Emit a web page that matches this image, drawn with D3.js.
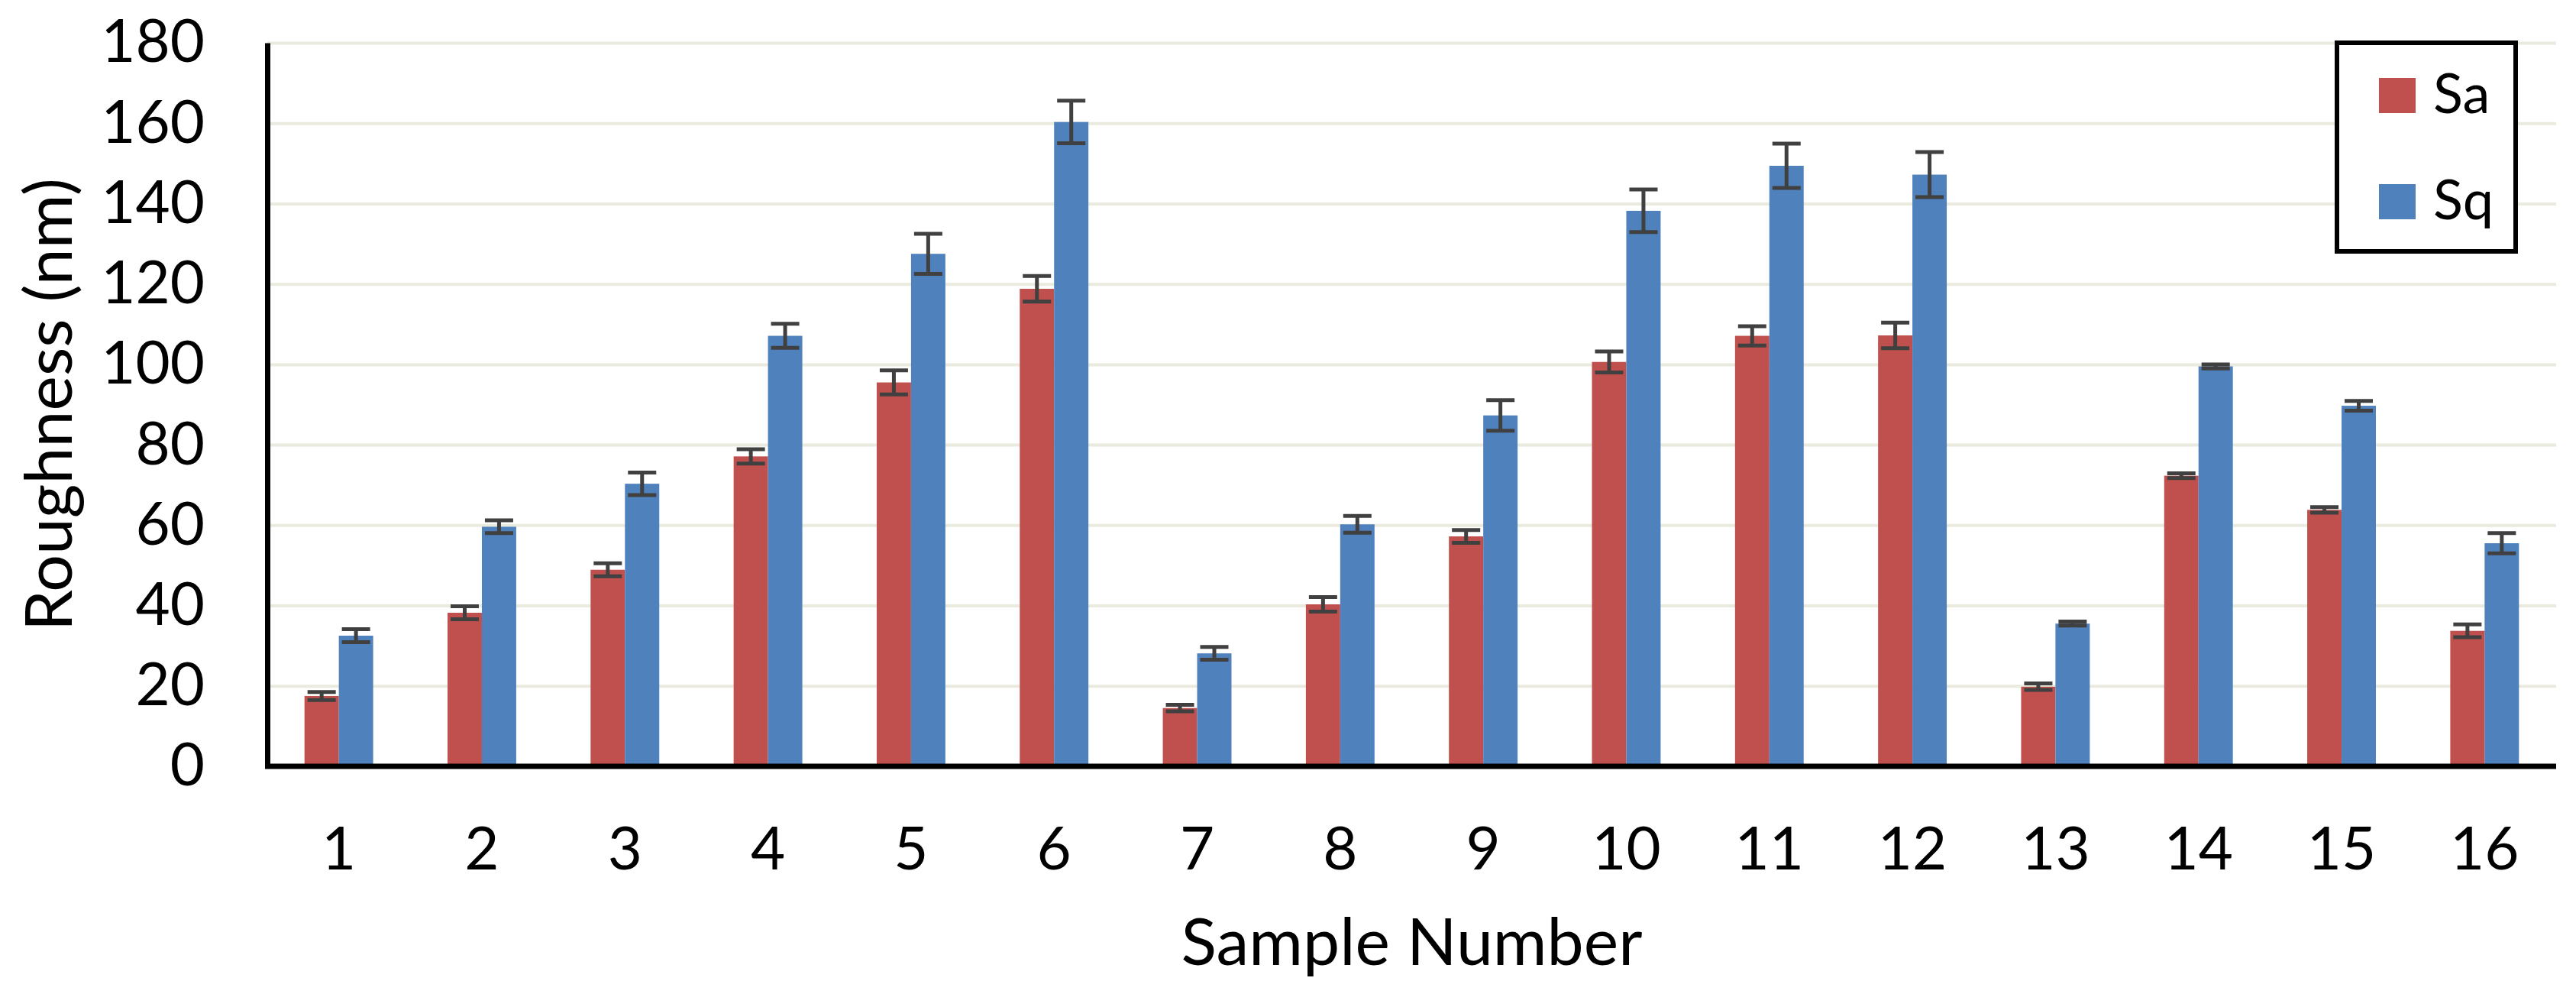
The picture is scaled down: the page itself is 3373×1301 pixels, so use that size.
<!DOCTYPE html>
<html>
<head>
<meta charset="utf-8">
<script src="https://cdn.jsdelivr.net/npm/d3@7"></script>
<style>
  html, body { margin: 0; padding: 0; background: #ffffff; }
  svg { display: block; }
  text { font-family: Lato, "Open Sans", sans-serif; fill: #000; }
</style>
</head>
<body>
<div id="chart"></div>
<script>
const samples = ["1","2","3","4","5","6","7","8","9","10","11","12","13","14","15","16"];
const seriesNames = ["Sa", "Sq"];
const saValues = [17.5, 38.2, 48.9, 77.1, 95.5, 118.8, 14.5, 40.3, 57.2, 100.6, 107.1, 107.2, 19.8, 72.3, 63.8, 33.7];
const saErrors = [1.0, 1.6, 1.6, 1.8, 3.0, 3.2, 0.8, 1.8, 1.6, 2.6, 2.4, 3.2, 0.8, 0.6, 0.7, 1.6];
const sqValues = [32.5, 59.6, 70.3, 107.1, 127.5, 160.3, 28.1, 60.2, 87.3, 138.2, 149.4, 147.2, 35.5, 99.5, 89.7, 55.5];
const sqErrors = [1.6, 1.6, 2.8, 3.0, 5.0, 5.3, 1.6, 2.1, 3.8, 5.3, 5.5, 5.6, 0.5, 0.5, 1.2, 2.5];
const yTicks = [0, 20, 40, 60, 80, 100, 120, 140, 160, 180];
const seriesColors = ["#C0504D", "#4F81BD"];

const W = 3373, H = 1301;
const plot = { left: 350, right: 3347, top: 56, bottom: 1003 };

const svg = d3.select("#chart").append("svg")
  .attr("width", W).attr("height", H)
  .attr("viewBox", `0 0 ${W} ${H}`);

const x0 = d3.scaleBand().domain(samples)
  .range([plot.left, plot.right])
  .paddingInner(0.52).paddingOuter(0.26);
const x1 = d3.scaleBand().domain(seriesNames)
  .range([0, x0.bandwidth()]).padding(0);
const y = d3.scaleLinear().domain([0, 180]).range([plot.bottom, plot.top]);

// gridlines
const grid = svg.append("g")
  .attr("transform", `translate(${plot.left},0)`)
  .call(d3.axisLeft(y).tickValues(yTicks.slice(1)).tickSize(-(plot.right - plot.left)).tickFormat(""));
grid.select(".domain").remove();
grid.selectAll("line").attr("stroke", "#EAEADF").attr("stroke-width", 4);

// data rows
const rows = samples.map((s, i) => ({
  sample: s,
  vals: [
    { key: "Sa", v: saValues[i], e: saErrors[i], c: seriesColors[0] },
    { key: "Sq", v: sqValues[i], e: sqErrors[i], c: seriesColors[1] }
  ]
}));

const groups = svg.append("g").selectAll("g").data(rows).join("g")
  .attr("transform", d => `translate(${x0(d.sample)},0)`);

groups.selectAll("rect").data(d => d.vals).join("rect")
  .attr("x", d => x1(d.key))
  .attr("width", x1.bandwidth())
  .attr("y", d => y(d.v))
  .attr("height", d => y(0) - y(d.v))
  .attr("fill", d => d.c);

// error bars
const capHalf = 18.5;
const eb = groups.selectAll("g.err").data(d => d.vals).join("g").attr("class", "err")
  .attr("stroke", "#404040").attr("stroke-width", 5);
eb.append("line")
  .attr("x1", d => x1(d.key) + x1.bandwidth() / 2)
  .attr("x2", d => x1(d.key) + x1.bandwidth() / 2)
  .attr("y1", d => y(d.v + d.e)).attr("y2", d => y(d.v - d.e));
eb.append("line")
  .attr("x1", d => x1(d.key) + x1.bandwidth() / 2 - capHalf)
  .attr("x2", d => x1(d.key) + x1.bandwidth() / 2 + capHalf)
  .attr("y1", d => y(d.v + d.e)).attr("y2", d => y(d.v + d.e));
eb.append("line")
  .attr("x1", d => x1(d.key) + x1.bandwidth() / 2 - capHalf)
  .attr("x2", d => x1(d.key) + x1.bandwidth() / 2 + capHalf)
  .attr("y1", d => y(d.v - d.e)).attr("y2", d => y(d.v - d.e));

// y axis
const yAxis = svg.append("g")
  .attr("transform", `translate(${plot.left},0)`)
  .call(d3.axisLeft(y).tickValues(yTicks).tickSize(0).tickPadding(82));
yAxis.select(".domain").attr("stroke", "#000").attr("stroke-width", 7);
yAxis.selectAll("text").attr("font-size", 78).attr("font-family", "Lato, sans-serif").attr("fill", "#000");

// x axis
const xAxis = svg.append("g")
  .attr("transform", `translate(0,${plot.bottom})`)
  .call(d3.axisBottom(x0).tickSize(0).tickPadding(80));
xAxis.select(".domain").attr("stroke", "#000").attr("stroke-width", 7)
  .attr("d", `M${plot.left - 3},0H${plot.right}`);
xAxis.selectAll("text").attr("font-size", 78).attr("font-family", "Lato, sans-serif").attr("fill", "#000");

// axis titles
svg.append("text")
  .attr("transform", `translate(94,${(plot.top + plot.bottom) / 2}) rotate(-90)`)
  .attr("text-anchor", "middle")
  .attr("font-size", 86)
  .text("Roughness (nm)");
svg.append("text")
  .attr("x", (plot.left + plot.right) / 2)
  .attr("y", 1263)
  .attr("text-anchor", "middle")
  .attr("font-size", 86)
  .text("Sample Number");

// legend
const legend = svg.append("g");
legend.append("rect")
  .attr("x", 3060).attr("y", 56).attr("width", 234).attr("height", 273)
  .attr("fill", "#fff").attr("stroke", "#000").attr("stroke-width", 6);
const li = legend.selectAll("g.li").data(seriesNames).join("g").attr("class", "li")
  .attr("transform", (d, i) => `translate(0,${i * 139})`);
li.append("rect")
  .attr("x", 3115).attr("y", 102).attr("width", 48).attr("height", 46)
  .attr("fill", (d, i) => seriesColors[i]);
li.append("text")
  .attr("x", 3186).attr("y", 148)
  .attr("font-size", 72)
  .text(d => d);
</script>
</body>
</html>
